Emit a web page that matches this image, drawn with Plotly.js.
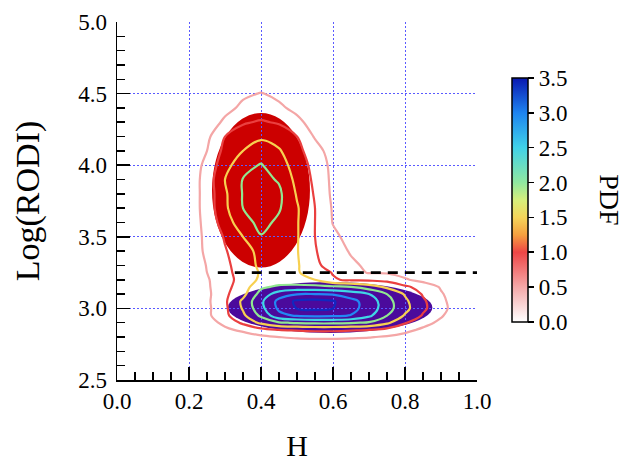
<!DOCTYPE html>
<html>
<head>
<meta charset="utf-8">
<script src="https://cdn.plot.ly/plotly-3.0.1.min.js"></script>
<style>html,body{margin:0;padding:0;background:#fff;}#chart{width:625px;height:464px;}</style>
</head>
<body>
<div id="chart"></div>
<script>
// Grid of H values (columns) and Log(RODI) values (rows)
const hGrid = [0.15,0.20,0.25,0.30,0.35,0.40,0.45,0.50,0.55,0.60,0.65,0.70,0.75,0.80,0.85,0.90,0.95,1.00];
const rodiGrid = [2.70,2.75,2.80,2.85,2.90,2.95,3.00,3.05,3.10,3.15,3.20,3.25,3.30,3.40,3.50,3.60,3.70,3.80,3.90,4.00,4.10,4.20,4.30,4.40,4.50,4.60];
// PDF values (rows follow rodiGrid, columns follow hGrid)
const pdfRows = [
 [0,0,0,0,0,0,0.05,0.1,0.1,0.1,0.1,0.08,0.05,0,0,0,0,0],
 [0,0,0,0.05,0.12,0.2,0.25,0.28,0.3,0.3,0.28,0.25,0.2,0.15,0.1,0.05,0,0],
 [0,0,0.03,0.1,0.25,0.4,0.5,0.55,0.57,0.57,0.55,0.52,0.45,0.35,0.22,0.1,0.03,0],
 [0,0,0.15,0.4,0.6,0.85,1.0,1.05,1.1,1.1,1.05,1.0,0.85,0.62,0.42,0.2,0.05,0],
 [0,0.05,0.3,0.62,1.1,1.6,1.95,2.05,2.1,2.1,2.05,1.95,1.6,1.05,0.65,0.4,0.12,0],
 [0,0.08,0.38,0.88,1.4,2.1,2.85,3.05,3.1,3.08,2.98,2.6,2.0,1.45,0.95,0.55,0.2,0.02],
 [0,0.1,0.38,0.9,1.55,2.35,3.1,3.52,3.6,3.5,3.15,2.8,2.2,1.65,1.1,0.65,0.25,0.05],
 [0,0.1,0.4,0.92,1.6,2.4,3.15,3.6,3.65,3.55,3.15,2.78,2.2,1.6,1.08,0.62,0.22,0.03],
 [0,0.1,0.38,0.9,1.35,2.2,2.75,2.98,3.0,2.95,2.75,2.5,2.0,1.45,0.95,0.55,0.2,0.02],
 [0,0.1,0.42,0.85,1.25,1.9,2.1,2.15,2.15,2.1,2.0,1.75,1.4,1.1,0.8,0.45,0.15,0],
 [0,0.12,0.45,0.8,1.2,1.6,1.7,1.65,1.5,1.05,0.92,0.9,0.85,0.55,0.35,0.2,0.05,0],
 [0,0.15,0.5,0.85,1.22,1.55,1.65,1.55,1.25,0.97,0.65,0.47,0.45,0.35,0.2,0.08,0,0],
 [0,0.2,0.52,0.88,1.25,1.6,1.7,1.56,1.08,0.85,0.6,0.4,0.25,0.12,0.05,0,0,0],
 [0,0.25,0.58,0.96,1.3,1.65,1.8,1.53,1.03,0.75,0.45,0.25,0.1,0.03,0,0,0,0],
 [0,0.25,0.6,1.05,1.5,1.97,1.9,1.54,1.0,0.6,0.35,0.15,0.05,0,0,0,0,0],
 [0,0.22,0.65,1.25,1.8,2.15,1.9,1.54,1.0,0.48,0.25,0.1,0,0,0,0,0,0],
 [0,0.2,0.7,1.4,2.0,2.2,2.05,1.55,1.0,0.45,0.2,0.05,0,0,0,0,0,0],
 [0,0.2,0.7,1.42,2.03,2.2,2.1,1.45,0.95,0.4,0.15,0,0,0,0,0,0,0],
 [0,0.2,0.7,1.5,2.02,2.15,1.95,1.35,0.9,0.38,0.12,0,0,0,0,0,0,0],
 [0,0.15,0.65,1.3,1.85,2.03,1.75,1.25,0.85,0.35,0.1,0,0,0,0,0,0,0],
 [0,0.1,0.5,1.15,1.5,1.75,1.55,1.15,0.72,0.25,0.05,0,0,0,0,0,0,0],
 [0,0.05,0.38,1.0,1.25,1.42,1.3,1.0,0.45,0.15,0,0,0,0,0,0,0,0],
 [0,0,0.2,0.6,0.95,1.05,0.95,0.62,0.3,0.05,0,0,0,0,0,0,0,0],
 [0,0,0.1,0.35,0.6,0.7,0.58,0.38,0.15,0,0,0,0,0,0,0,0,0],
 [0,0,0,0.2,0.42,0.52,0.4,0.2,0.05,0,0,0,0,0,0,0,0,0],
 [0,0,0,0,0.15,0.2,0.12,0,0,0,0,0,0,0,0,0,0,0]
];
// Contour levels
const levelStart = 0.5, levelEnd = 3.5, levelStep = 0.5;
// Fitted component ellipses: centres and half-axes (H, Log(RODI))
const ellipseCenterH = [0.400, 0.592];
const ellipseCenterY = [3.825, 3.006];
const ellipseHalfH = [0.136, 0.284];
const ellipseHalfY = [0.540, 0.178];
const ellipseColors = ['#cc0000', '#4b0a9c'];
// Threshold line
const thresholdY = 3.25;
const thresholdH = [0.28, 1.0];
// Colorbar
const pdfMin = 0, pdfMax = 3.5;
const cbTicks = [0,0.5,1.0,1.5,2.0,2.5,3.0,3.5];

const fullScale = [
  [0, '#ffffff'],
  [0.1429, '#f5a8a8'],
  [0.2857, '#ee4646'],
  [0.3571, '#f5a040'],
  [0.4286, '#f5d55a'],
  [0.5, '#d6ef7c'],
  [0.5714, '#90e8a0'],
  [0.7143, '#40d2e8'],
  [0.8571, '#1e84f0'],
  [1, '#0a18b0']
];
const lineScale = [
  [0, '#f4a6a6'],
  [1/6, '#ea4040'],
  [2/6, '#f7d050'],
  [3/6, '#90e890'],
  [4/6, '#40d6e6'],
  [5/6, '#2288f4'],
  [1, '#1028c0']
];

const FONT = '"Liberation Serif", "Times New Roman", serif';

const contourTrace = {
  type: 'contour',
  x: hGrid, y: rodiGrid, z: pdfRows,
  autocontour: false,
  contours: {start: levelStart, end: levelEnd, size: levelStep, coloring: 'lines'},
  colorscale: lineScale,
  line: {width: 2.2, smoothing: 1},
  showscale: false,
  hoverinfo: 'skip'
};

const cbTrace = {
  type: 'scatter', mode: 'markers',
  x: [null, null], y: [null, null],
  showlegend: false, hoverinfo: 'skip',
  marker: {
    color: [pdfMin, pdfMax], cmin: pdfMin, cmax: pdfMax,
    colorscale: fullScale, showscale: true, opacity: 0,
    colorbar: {
      x: 1.097, xanchor: 'left', xref: 'paper', xpad: 0,
      y: 0.503, yanchor: 'middle', ypad: 0,
      len: 0.682, lenmode: 'fraction',
      thickness: 16, thicknessmode: 'pixels',
      outlinewidth: 1.5, outlinecolor: '#000',
      tickmode: 'array', tickvals: cbTicks,
      ticktext: cbTicks.map(v => v.toFixed(1)),
      ticks: 'outside', ticklen: 6, tickwidth: 1.5, tickcolor: '#000',
      tickfont: {family: FONT, size: 23, color: '#000'}
    }
  }
};

const shapes = [];
for (let i = 0; i < ellipseCenterH.length; i++) {
  shapes.push({
    type: 'circle', xref: 'x', yref: 'y', layer: 'below',
    x0: ellipseCenterH[i] - ellipseHalfH[i], x1: ellipseCenterH[i] + ellipseHalfH[i],
    y0: ellipseCenterY[i] - ellipseHalfY[i], y1: ellipseCenterY[i] + ellipseHalfY[i],
    fillcolor: ellipseColors[i], line: {width: 0}
  });
}
shapes.push({
  type: 'line', xref: 'x', yref: 'y', layer: 'above',
  x0: thresholdH[0], x1: thresholdH[1], y0: thresholdY, y1: thresholdY,
  line: {color: '#000', width: 2.6, dash: '10px,7px'}
});

const axisCommon = {
  showline: true, linecolor: '#000', linewidth: 1.5, mirror: false,
  ticks: 'inside', ticklen: 13, tickwidth: 1.5, tickcolor: '#000',
  showgrid: true, gridcolor: 'rgb(90,90,255)', griddash: '2px,2px', gridwidth: 1,
  zeroline: false, tickformat: '.1f',
  tickfont: {family: FONT, size: 23, color: '#000'}
};

const layout = {
  width: 625, height: 464,
  margin: {l: 117, r: 148, t: 22, b: 84, pad: 0},
  paper_bgcolor: '#fff', plot_bgcolor: '#fff',
  font: {family: FONT, color: '#000'},
  showlegend: false,
  xaxis: Object.assign({}, axisCommon, {
    range: [0, 1.0], tick0: 0, dtick: 0.2,
    minor: {dtick: 0.05, ticks: 'inside', ticklen: 8, tickwidth: 1.5, tickcolor: '#000', showgrid: false},
    title: {text: 'H', font: {family: FONT, size: 30, color: '#000'}, standoff: 22}
  }),
  yaxis: Object.assign({}, axisCommon, {
    range: [2.5, 5.0], tick0: 2.5, dtick: 0.5,
    minor: {dtick: 0.1, ticks: 'inside', ticklen: 8, tickwidth: 1.5, tickcolor: '#000', showgrid: false},
    ticklabelstandoff: 4,
    title: {text: 'Log(RODI)', font: {family: FONT, size: 34, color: '#000'}, standoff: 28}
  }),
  shapes: shapes,
  annotations: [{
    text: 'PDF', xref: 'paper', yref: 'paper', x: 1.366, y: 0.503,
    xanchor: 'center', yanchor: 'middle', showarrow: false, textangle: 90,
    font: {family: FONT, size: 28, color: '#000'}
  }]
};

Plotly.newPlot('chart', [contourTrace, cbTrace], layout, {displayModeBar: false, staticPlot: true});
</script>
</body>
</html>
